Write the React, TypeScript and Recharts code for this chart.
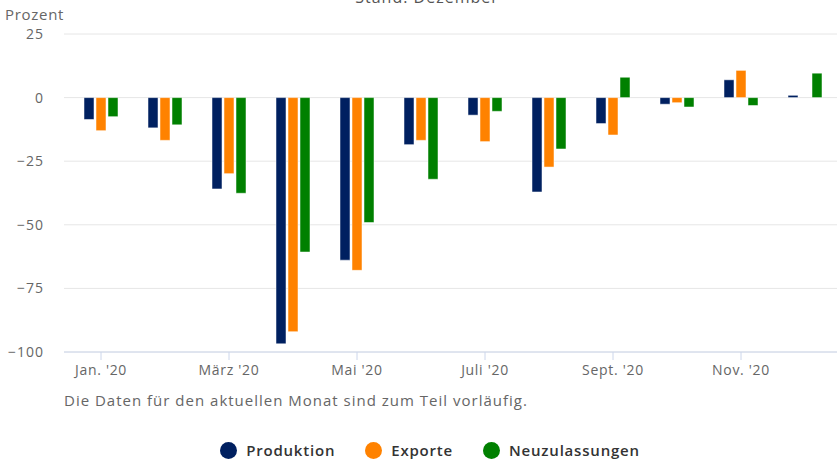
import { BarChart, Bar, XAxis, YAxis, CartesianGrid } from 'recharts';

// Monthly change vs. previous year, in percent
const MONTHS = [
  "Jan. '20", "Feb. '20", "März '20", "Apr. '20", "Mai '20", "Juni '20",
  "Juli '20", "Aug. '20", "Sept. '20", "Okt. '20", "Nov. '20", "Dez. '20",
];
const PRODUKTION = [-8.6, -11.9, -35.9, -96.8, -63.9, -18.5, -6.9, -37.1, -10.2, -2.6, 7.0, 0.9];
const EXPORTE = [-13.0, -16.8, -29.9, -92.0, -67.9, -16.8, -17.3, -27.3, -14.7, -2.0, 10.7, null];
const NEUZULASSUNGEN = [-7.5, -10.7, -37.6, -60.7, -49.1, -32.1, -5.4, -20.2, 8.0, -3.7, -3.1, 9.6];
const Y_TICKS = [25, 0, -25, -50, -75, -100];

const SERIES = [
  { key: 'produktion', name: 'Produktion', color: '#002060' },
  { key: 'exporte', name: 'Exporte', color: '#ff8200' },
  { key: 'neuzulassungen', name: 'Neuzulassungen', color: '#008000' },
];

const data = MONTHS.map((month, i) => ({
  month,
  produktion: PRODUKTION[i],
  exporte: EXPORTE[i],
  neuzulassungen: NEUZULASSUNGEN[i],
}));

const FONT = '"Open Sans", "DejaVu Sans", sans-serif';

export default function App() {
  return (
    <div
      style={{
        position: 'absolute',
        left: 0,
        top: 0,
        width: 837,
        height: 462,
        overflow: 'hidden',
        background: '#fff',
        fontFamily: FONT,
      }}
    >
      <div
        style={{
          position: 'absolute',
          left: 0,
          width: 854,
          top: -14,
          textAlign: 'center',
          fontSize: 16,
          letterSpacing: 1,
          color: '#555',
        }}
      >
        Stand: Dezember
      </div>
      <div style={{ position: 'absolute', left: 5, top: 4, fontSize: 15, letterSpacing: 0.7, color: '#666' }}>
        Prozent
      </div>

      <BarChart
        width={837}
        height={462}
        data={data}
        margin={{ top: 34, right: 0, left: 0, bottom: 80 }}
        barSize={10}
        barGap={2}
      >
        <CartesianGrid horizontal vertical={false} stroke="#e6e6e6" />
        <XAxis
          dataKey="month"
          interval={1}
          height={30}
          padding={{ left: 5, right: 0 }}
          axisLine={{ stroke: '#ccd6eb' }}
          tickLine={{ stroke: '#ccd6eb' }}
          tickSize={8}
          tickMargin={5}
          tick={{ fill: '#666', fontSize: 14, fontFamily: FONT, letterSpacing: 0.7 }}
        />
        <YAxis
          domain={[-100, 25]}
          ticks={Y_TICKS}
          width={64}
          axisLine={false}
          tickLine={false}
          tickSize={0}
          tickMargin={20}
          tickFormatter={(v: number) => String(v).replace('-', '\u2212')}
          tick={{ fill: '#666', fontSize: 14, fontFamily: FONT, letterSpacing: 1 }}
        />
        {SERIES.map((s) => (
          <Bar
            key={s.key}
            dataKey={s.key}
            name={s.name}
            fill={s.color}
            stroke="#fff"
            strokeWidth={0.5}
            isAnimationActive={false}
          />
        ))}
      </BarChart>

      <div
        style={{ position: 'absolute', left: 64, top: 390, fontSize: 15, letterSpacing: 1, color: '#666' }}
      >
        Die Daten für den aktuellen Monat sind zum Teil vorläufig.
      </div>

      <div
        style={{
          position: 'absolute',
          left: 0,
          width: 860,
          top: 440,
          display: 'flex',
          justifyContent: 'center',
          gap: 30,
        }}
      >
        {SERIES.map((s) => (
          <div key={s.key} style={{ display: 'flex', alignItems: 'center' }}>
            <span
              style={{
                display: 'inline-block',
                width: 17,
                height: 17,
                borderRadius: '50%',
                background: s.color,
                marginRight: 9,
              }}
            />
            <span style={{ fontSize: 15, fontWeight: 600, letterSpacing: 0.8, color: '#333' }}>{s.name}</span>
          </div>
        ))}
      </div>
    </div>
  );
}
